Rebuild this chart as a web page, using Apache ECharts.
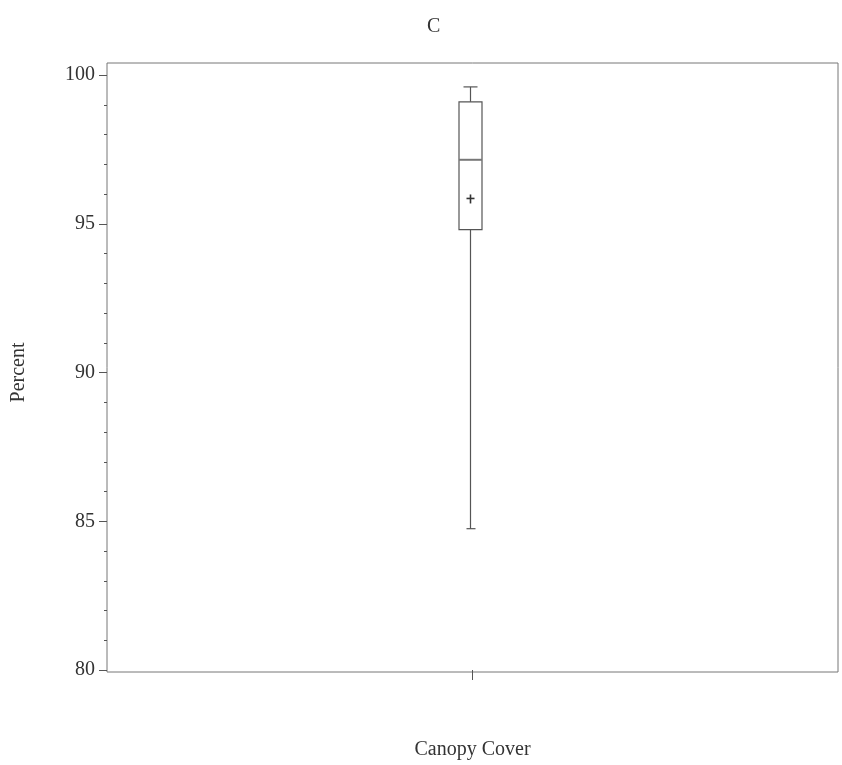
<!DOCTYPE html>
<html>
<head>
<meta charset="utf-8">
<script src="https://cdn.jsdelivr.net/npm/echarts@6/dist/echarts.min.js"></script>
<style>html,body{margin:0;padding:0;background:#fff}#c{width:842px;height:765px}</style>
</head>
<body>
<div id="c"></div>
<script>
var categories = ['Canopy Cover'];
// [low whisker, Q1, median, Q3, high whisker, mean]
var boxStats = [[84.75, 94.8, 97.15, 99.1, 99.6, 95.85]];
var yTicks = [80, 85, 90, 95, 100];

var chart = echarts.init(document.getElementById('c'));
var font = 'Liberation Serif';
var lineColor = '#555';

chart.setOption({
  animation: false,
  title: { text: 'C', left: 422, top: 12, textStyle: { fontFamily: font, fontSize: 20, fontWeight: 'normal', color: '#333' } },
  grid: [
    { left: 107, right: 4, top: 75, bottom: 95, show: false, containLabel: false, outerBoundsMode: 'none' },
    { left: 107, right: 4, top: 63, bottom: 93, show: true, borderColor: '#777', borderWidth: 1, backgroundColor: 'transparent', containLabel: false, outerBoundsMode: 'none' }
  ],
  xAxis: [
    {
      gridIndex: 0, type: 'category', data: categories, position: 'bottom',
      axisLine: { show: true, onZero: false, lineStyle: { color: 'rgba(0,0,0,0)' } },
      axisTick: { show: true, inside: false, alignWithLabel: true, length: 10, lineStyle: { color: lineColor } },
      axisLabel: { show: false },
      name: 'Canopy Cover', nameLocation: 'middle', nameGap: 70, nameMoveOverlap: false,
      nameTextStyle: { fontFamily: font, fontSize: 20, color: '#333' }
    },
    { gridIndex: 1, type: 'value', show: false }
  ],
  yAxis: [
    {
      gridIndex: 0, type: 'value', min: yTicks[0], max: yTicks[yTicks.length - 1], interval: 5,
      axisLine: { show: false },
      axisTick: { show: true, inside: false, length: 8, lineStyle: { color: lineColor } },
      minorTick: { show: true, splitNumber: 5, length: 3, lineStyle: { color: lineColor } },
      splitLine: { show: false },
      axisLabel: { fontFamily: font, fontSize: 20, color: '#333', margin: 12 },
      name: 'Percent', nameLocation: 'middle', nameRotate: 90, nameGap: 78, nameMoveOverlap: false,
      nameTextStyle: { fontFamily: font, fontSize: 20, color: '#333' }
    },
    { gridIndex: 1, type: 'value', show: false }
  ],
  series: [{
    type: 'custom',
    xAxisIndex: 0, yAxisIndex: 0,
    data: boxStats.map(function (s, i) { return [i].concat(s); }),
    encode: { x: 0, y: [1, 2, 3, 4, 5, 6] },
    renderItem: function (params, api) {
      var x = api.value(0);
      var lo = api.coord([x, api.value(1)]);
      var q1 = api.coord([x, api.value(2)]);
      var md = api.coord([x, api.value(3)]);
      var q3 = api.coord([x, api.value(4)]);
      var hi = api.coord([x, api.value(5)]);
      var mn = api.coord([x, api.value(6)]);
      var cx = lo[0] - 2;
      var hw = 11.5;
      var cap = 7;
      var st = { stroke: lineColor, lineWidth: 1.2, fill: null };
      var mst = { stroke: '#333', lineWidth: 1.6 };
      return {
        type: 'group',
        children: [
          { type: 'line', shape: { x1: cx, y1: q1[1], x2: cx, y2: lo[1] }, style: st },
          { type: 'line', shape: { x1: cx - 4, y1: lo[1], x2: cx + 5, y2: lo[1] }, style: st },
          { type: 'line', shape: { x1: cx, y1: q3[1], x2: cx, y2: hi[1] }, style: st },
          { type: 'line', shape: { x1: cx - cap, y1: hi[1], x2: cx + cap, y2: hi[1] }, style: st },
          { type: 'rect', shape: { x: cx - hw, y: q3[1], width: hw * 2, height: q1[1] - q3[1] }, style: st },
          { type: 'line', shape: { x1: cx - hw, y1: md[1], x2: cx + hw, y2: md[1] }, style: { stroke: '#777', lineWidth: 2 } },
          { type: 'line', shape: { x1: cx - 4, y1: mn[1], x2: cx + 4, y2: mn[1] }, style: mst },
          { type: 'line', shape: { x1: cx, y1: mn[1] - 4, x2: cx, y2: mn[1] + 5 }, style: mst }
        ]
      };
    }
  }]
});
</script>
</body>
</html>
